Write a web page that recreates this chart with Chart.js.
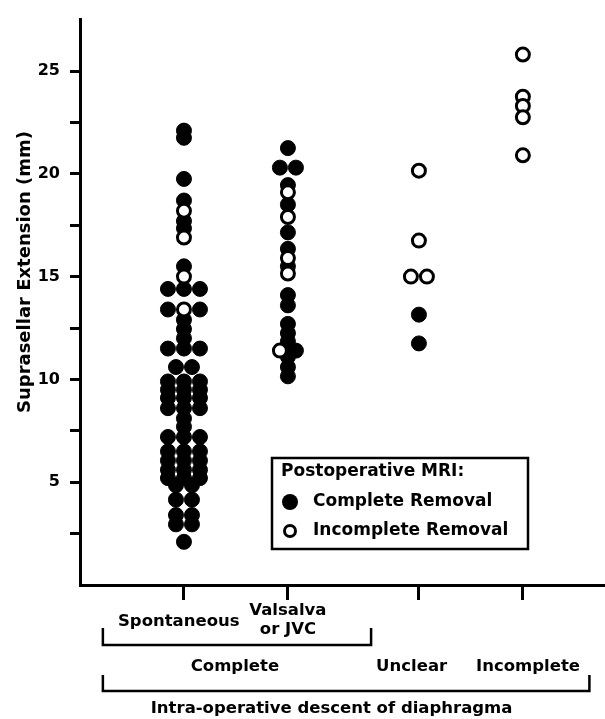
<!DOCTYPE html>
<html>
<head>
<meta charset="utf-8">
<script src="https://cdn.jsdelivr.net/npm/chart.js@4/dist/chart.umd.min.js"></script>
<style>
  html, body { margin: 0; padding: 0; background: #fff; }
  #wrap { width: 605px; height: 719px; }
</style>
</head>
<body>
<div id="wrap"><canvas id="chart" width="605" height="719"></canvas></div>
<script>
// 分组（术中膈鞍下降情况）
const groupNames = ['Spontaneous', 'Valsalva or JVC', 'Unclear', 'Incomplete'];
const groupX = [1, 2, 3.26, 4.26];

// 鞍上扩展 (mm) — 术后 MRI 完全切除（实心点）
const spontaneousComplete = [
  22.1, 21.75, 19.75, 18.7, 17.7, 17.35, 15.5,
  14.4, 14.4, 14.4, 13.4, 13.4, 12.9, 12.45, 12.0,
  11.5, 11.5, 11.5, 10.6, 10.6,
  9.9, 9.9, 9.9, 9.5, 9.5, 9.5, 9.1, 9.1, 9.1, 8.6, 8.6, 8.6,
  8.1, 7.7, 7.2, 7.2, 7.2,
  6.5, 6.5, 6.5, 6.05, 6.05, 6.05, 5.6, 5.6, 5.6, 5.2, 5.2, 5.2,
  4.85, 4.85, 4.15, 4.15, 3.4, 3.4, 2.95, 2.95, 2.1
];
const valsalvaComplete = [
  21.25, 20.3, 20.3, 19.45, 18.5, 17.15, 16.35, 15.5,
  14.1, 13.6, 12.7, 12.25, 11.85, 11.4, 11.1, 10.6, 10.15
];
const unclearComplete = [13.15, 11.75];
const incompleteComplete = [];

// 术后 MRI 未完全切除（空心点）
const spontaneousIncomplete = [18.2, 16.9, 15.0, 13.4];
const valsalvaIncomplete = [19.1, 17.9, 15.9, 15.15, 11.4];
const unclearIncomplete = [20.15, 16.75, 15.0, 15.0];
const incompleteIncomplete = [25.8, 23.75, 23.3, 22.75, 20.9];

// y 轴刻度
const yTicks = [2.5, 5, 7.5, 10, 12.5, 15, 17.5, 20, 22.5, 25];
const yLabels = [5, 10, 15, 20, 25];

const FONT = 'DejaVu Sans';
const SLOT = 0.154;

/**
 * 同值点左右错开排列，空心点优先占中间位置
 */
function swarm(xc, complete, incomplete, filled, open) {
  const items = incomplete.map(v => ({ v, o: true }))
    .concat(complete.map(v => ({ v, o: false })));
  const groups = {};
  items.forEach(it => { (groups[it.v] = groups[it.v] || []).push(it); });
  Object.values(groups).forEach(g => {
    const n = g.length;
    const offs = [];
    for (let i = 0; i < n; i++) offs.push(i - (n - 1) / 2);
    offs.sort((a, b) => Math.abs(a) - Math.abs(b) || a - b);
    g.forEach((it, i) => {
      const p = { x: xc + offs[i] * SLOT, y: it.v };
      (it.o ? open : filled).push(p);
    });
  });
}

const filledPts = [];
const openPts = [];
swarm(groupX[0], spontaneousComplete, spontaneousIncomplete, filledPts, openPts);
swarm(groupX[1], valsalvaComplete, valsalvaIncomplete, filledPts, openPts);
swarm(groupX[2], unclearComplete, unclearIncomplete, filledPts, openPts);
swarm(groupX[3], incompleteComplete, incompleteIncomplete, filledPts, openPts);

// 图例、y 轴标题与底部分组括号
const annotations = {
  id: 'annotations',
  afterDraw(chart) {
    const ctx = chart.ctx;
    const xs = chart.scales.x;
    const px = v => xs.getPixelForValue(v);
    ctx.save();
    ctx.strokeStyle = '#000';
    ctx.fillStyle = '#000';

    // y axis title
    ctx.save();
    ctx.translate(25, 272);
    ctx.rotate(-Math.PI / 2);
    ctx.textAlign = 'center';
    ctx.textBaseline = 'middle';
    ctx.font = 'bold 18px "' + FONT + '"';
    ctx.fillText('Suprasellar Extension (mm)', 0, 0);
    ctx.restore();

    // legend box
    ctx.lineWidth = 2.5;
    ctx.strokeRect(272, 458, 256, 91);
    ctx.textBaseline = 'middle';
    ctx.textAlign = 'left';
    ctx.font = 'bold 17px "' + FONT + '"';
    ctx.fillText('Postoperative MRI:', 281, 472);
    ctx.fillText('Complete Removal', 313, 502);
    ctx.fillText('Incomplete Removal', 313, 531);
    ctx.beginPath();
    ctx.arc(290, 502, 8, 0, Math.PI * 2);
    ctx.fill();
    ctx.beginPath();
    ctx.lineWidth = 3;
    ctx.arc(290, 531, 5.5, 0, Math.PI * 2);
    ctx.fillStyle = '#fff';
    ctx.fill();
    ctx.stroke();
    ctx.fillStyle = '#000';

    // group labels
    ctx.textAlign = 'center';
    ctx.font = 'bold 16.5px "' + FONT + '"';
    ctx.fillText(groupNames[0], px(0.95), 622);
    ctx.fillText('Valsalva', px(2.0), 611);
    ctx.fillText('or JVC', px(2.0), 630);
    ctx.fillText('Complete', px(1.49), 667);
    ctx.fillText(groupNames[2], px(3.19), 667);
    ctx.fillText(groupNames[3], px(4.31), 667);
    ctx.fillText('Intra-operative descent of diaphragma', px(2.42), 709);

    // brackets
    ctx.lineWidth = 2.5;
    ctx.beginPath();
    ctx.moveTo(px(0.22), 628); ctx.lineTo(px(0.22), 645);
    ctx.lineTo(px(2.8), 645); ctx.lineTo(px(2.8), 628);
    ctx.stroke();
    ctx.beginPath();
    ctx.moveTo(px(0.22), 675); ctx.lineTo(px(0.22), 691);
    ctx.lineTo(px(4.9), 691); ctx.lineTo(px(4.9), 675);
    ctx.stroke();
    ctx.restore();
  }
};

new Chart(document.getElementById('chart'), {
  type: 'scatter',
  data: {
    datasets: [
      {
        label: 'Incomplete Removal',
        data: openPts,
        order: 0,
        pointRadius: 6.5,
        borderWidth: 3,
        borderColor: '#000',
        backgroundColor: '#fff'
      },
      {
        label: 'Complete Removal',
        data: filledPts,
        order: 1,
        pointRadius: 7.5,
        borderWidth: 1,
        borderColor: '#000',
        backgroundColor: '#000'
      }
    ]
  },
  options: {
    responsive: false,
    animation: false,
    events: [],
    layout: { autoPadding: false, padding: { top: 15, right: 0, left: 0, bottom: 0 } },
    plugins: { legend: { display: false }, tooltip: { enabled: false } },
    scales: {
      x: {
        type: 'linear',
        min: 0,
        max: 5.05,
        afterFit: s => { s.height = 134; },
        afterBuildTicks: s => { s.ticks = groupX.map(v => ({ value: v })); },
        ticks: { display: false },
        grid: { drawOnChartArea: false, tickLength: 15, lineWidth: 3, color: '#000' },
        border: { color: '#000', width: 3 }
      },
      y: {
        min: 0,
        max: 27.5,
        afterFit: s => { s.width = 80; },
        afterBuildTicks: s => { s.ticks = yTicks.map(v => ({ value: v })); },
        ticks: {
          padding: 10,
          color: '#000',
          font: { family: FONT, size: 16, weight: 'bold' },
          callback: v => (yLabels.includes(v) ? String(v) : '')
        },
        grid: { drawOnChartArea: false, tickLength: 10, lineWidth: 3, color: '#000' },
        border: { color: '#000', width: 3 }
      }
    }
  },
  plugins: [annotations]
});
</script>
</body>
</html>
